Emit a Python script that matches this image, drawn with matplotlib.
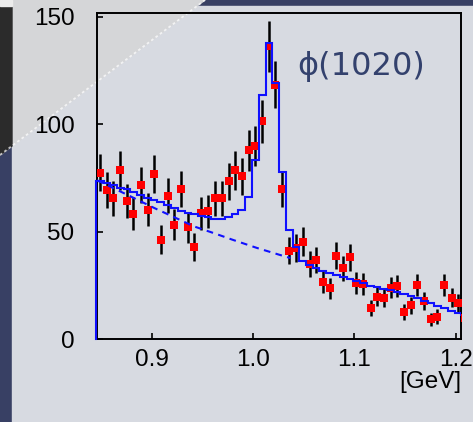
import numpy as np
import matplotlib
matplotlib.use('Agg')
from matplotlib import pyplot as plt
from matplotlib.patches import Polygon, Rectangle
from matplotlib.lines import Line2D

# measured points (bin centres in GeV, counts per bin)
mass = [0.849, 0.856, 0.862, 0.869, 0.876, 0.882, 0.889, 0.896, 0.902, 0.909,
        0.916, 0.922, 0.929, 0.936, 0.942, 0.949, 0.956, 0.962, 0.969, 0.976,
        0.982, 0.989, 0.996, 1.002, 1.009, 1.016, 1.022, 1.029, 1.036, 1.042,
        1.049, 1.056, 1.062, 1.069, 1.076, 1.082, 1.089, 1.096, 1.102, 1.109,
        1.116, 1.122, 1.129, 1.136, 1.142, 1.149, 1.156, 1.162, 1.169, 1.176,
        1.182, 1.189, 1.196, 1.202, 1.209]
counts = [77.6, 69.6, 65.7, 78.6, 64.5, 58.4, 71.8, 60.4, 76.9, 46.3,
          66.8, 53.3, 69.9, 52.1, 42.8, 58.7, 59.5, 65.7, 65.7, 73.5,
          78.6, 75.8, 87.9, 90.0, 101.5, 136.3, 118.4, 69.8, 41.3, 42.3,
          45.5, 35.0, 36.9, 26.8, 23.8, 38.9, 33.0, 38.1, 26.2, 25.7,
          14.5, 19.8, 19.4, 24.1, 24.9, 12.8, 15.9, 25.2, 17.9, 9.3,
          10.6, 25.2, 19.4, 17.0, 10.1]
errors = [8.8, 8.3, 8.1, 8.9, 8.0, 7.6, 8.5, 7.8, 8.8, 6.8,
          8.2, 7.3, 8.4, 7.2, 6.5, 7.7, 7.7, 8.1, 8.1, 8.6,
          8.9, 8.7, 9.4, 9.5, 10.1, 11.7, 10.9, 8.4, 6.4, 6.5,
          6.7, 5.9, 6.1, 5.2, 4.9, 6.2, 5.7, 6.2, 5.1, 5.1,
          3.8, 4.4, 4.4, 4.9, 5.0, 3.6, 4.0, 5.0, 4.2, 3.0,
          3.3, 5.0, 4.4, 4.1, 3.2]

# fit (signal + background), one value per bin
fit = [73.9, 72.7, 71.6, 70.6, 69.9, 68.5, 67.1, 65.8, 64.6, 63.9,
       62.5, 61.1, 59.9, 59.0, 58.1, 57.4, 56.7, 56.2, 56.2, 56.9,
       58.3, 60.2, 66.4, 83.4, 113.7, 137.7, 119.4, 77.7, 50.9, 43.0,
       36.5, 34.5, 33.3, 32.0, 30.8, 29.9, 28.9, 28.0, 27.0, 26.0,
       25.0, 24.3, 23.6, 22.8, 22.0, 21.0, 20.0, 19.0, 18.0, 16.8,
       15.5, 14.4, 13.3, 12.3, 11.5]

# background only (dashed)
bg_x = [0.846, 0.877, 0.903, 0.942, 0.962, 0.980, 1.004, 1.027, 1.037]
bg_y = [74.0, 67.0, 61.0, 52.5, 49.3, 46.3, 42.5, 39.2, 37.8]

xticks = [0.9, 1.0, 1.1, 1.2]
yticks = [0, 50, 100, 150]

W, H = 473, 422
navy = '#384064'
panel = '#d7dae1'
blue = '#1010ff'

fig = plt.figure(figsize=(W / 100, H / 100), dpi=100, facecolor=navy)

def px(x, y):
    return (x / W, 1 - y / H)

# slide decoration behind the chart
fig.patches.append(Rectangle(px(12, 422), (W - 12) / W, 416 / H,
                             transform=fig.transFigure, color=panel, zorder=-3))
fig.patches.append(Polygon([px(0, 0), px(205, 0), px(0, 155)], closed=True,
                           transform=fig.transFigure, color='#d5d6d8', zorder=-3))
fig.patches.append(Polygon([px(0, 6), px(12, 6), px(12, 146), px(0, 155)], closed=True,
                           transform=fig.transFigure, color='#2b2b2b', zorder=-2))
fig.patches.append(Polygon([px(0, 0), px(12, 0), px(12, 6), px(0, 6)], closed=True,
                           transform=fig.transFigure, color='#ececec', zorder=-2))
fig.lines.append(Line2D([0, 205 / W], [1 - 155 / H, 1], transform=fig.transFigure,
                        color='white', lw=1.3, dashes=(1.5, 1.5), alpha=0.7, zorder=-1))

ax = fig.add_axes([96.7 / W, (H - 339.3) / H, (461 - 96.7) / W, (339.3 - 12.7) / H])
ax.set_facecolor('none')

edges = np.concatenate([[mass[0] - (mass[1] - mass[0]) / 2],
                        (np.array(mass[:-1]) + np.array(mass[1:])) / 2,
                        [mass[-1] + (mass[-1] - mass[-2]) / 2]])

ax.errorbar(mass, counts, yerr=errors, fmt='none', ecolor='black', elinewidth=1.8,
            capsize=0, zorder=2)
ax.plot(mass, counts, 's', color='#ff0000', ms=5.6, mew=0, zorder=3)

ax.stairs(fit, edges, baseline=None, color=blue, lw=1.5, zorder=4)
ax.plot([edges[0], edges[0]], [0, fit[0]], color=blue, lw=1.5, zorder=4, clip_on=False)
ax.plot(bg_x, bg_y, color=blue, lw=1.5, dashes=(3.2, 2.6), zorder=4)

ax.set_xlim(0.8457, 1.2053)
ax.set_ylim(0, 152)
ax.set_xticks(xticks)
ax.set_xticklabels(['0.9', '1.0', '1.1', '1.2'])
ax.set_yticks(yticks)

for s in ax.spines.values():
    s.set_linewidth(1.4)
ax.tick_params(direction='in', length=4, width=1.2, labelsize=17.5,
               top=False, right=False)
ax.tick_params(axis='y', pad=16)
ax.tick_params(axis='x', pad=7)
for lab in ax.get_xticklabels() + ax.get_yticklabels():
    lab.set_fontfamily('Liberation Sans')

ax.set_xlabel('[GeV]', loc='right', fontsize=17.5, family='Liberation Sans', labelpad=0)

fig.text(297 / W, 1 - 66 / H, '\u03d5(1020)', color='#33416d', fontsize=23,
         family='DejaVu Sans', ha='left', va='center')

fig.savefig('out.png', dpi=100, facecolor=fig.get_facecolor())
